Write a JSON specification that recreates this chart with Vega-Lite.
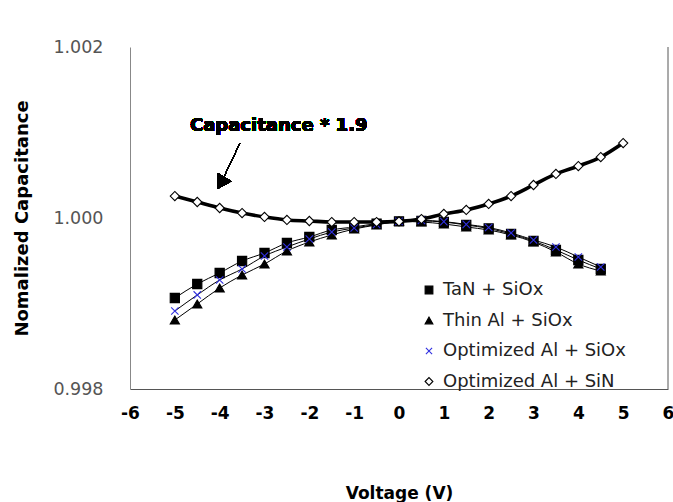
{
  "$schema": "https://vega.github.io/schema/vega-lite/v6.json",
  "width": 538,
  "height": 342,
  "autosize": {"type": "none"},
  "padding": {"left": 130, "top": 47, "right": 5, "bottom": 113},
  "background": "white",
  "config": {"view": {"stroke": null}, "font": "DejaVu Sans"},
  "data": {
    "values": [
      {"v": -5, "series": "TaN + SiOx", "c": 0.999064},
      {"v": -4.5, "series": "TaN + SiOx", "c": 0.999228},
      {"v": -4, "series": "TaN + SiOx", "c": 0.999357},
      {"v": -3.5, "series": "TaN + SiOx", "c": 0.999497},
      {"v": -3, "series": "TaN + SiOx", "c": 0.999591},
      {"v": -2.5, "series": "TaN + SiOx", "c": 0.999708},
      {"v": -2, "series": "TaN + SiOx", "c": 0.999778},
      {"v": -1.5, "series": "TaN + SiOx", "c": 0.99986},
      {"v": -1, "series": "TaN + SiOx", "c": 0.999895},
      {"v": -0.5, "series": "TaN + SiOx", "c": 0.999935},
      {"v": 0, "series": "TaN + SiOx", "c": 0.99996},
      {"v": 0.5, "series": "TaN + SiOx", "c": 0.999965},
      {"v": 1, "series": "TaN + SiOx", "c": 0.999953},
      {"v": 1.5, "series": "TaN + SiOx", "c": 0.999918},
      {"v": 2, "series": "TaN + SiOx", "c": 0.999878},
      {"v": 2.5, "series": "TaN + SiOx", "c": 0.999813},
      {"v": 3, "series": "TaN + SiOx", "c": 0.999731},
      {"v": 3.5, "series": "TaN + SiOx", "c": 0.999626},
      {"v": 4, "series": "TaN + SiOx", "c": 0.999509},
      {"v": 4.5, "series": "TaN + SiOx", "c": 0.999404},

      {"v": -5, "series": "Thin Al + SiOx", "c": 0.998807},
      {"v": -4.5, "series": "Thin Al + SiOx", "c": 0.998994},
      {"v": -4, "series": "Thin Al + SiOx", "c": 0.999181},
      {"v": -3.5, "series": "Thin Al + SiOx", "c": 0.999333},
      {"v": -3, "series": "Thin Al + SiOx", "c": 0.999462},
      {"v": -2.5, "series": "Thin Al + SiOx", "c": 0.999614},
      {"v": -2, "series": "Thin Al + SiOx", "c": 0.999719},
      {"v": -1.5, "series": "Thin Al + SiOx", "c": 0.999801},
      {"v": -1, "series": "Thin Al + SiOx", "c": 0.999871},
      {"v": -0.5, "series": "Thin Al + SiOx", "c": 0.999918},
      {"v": 0, "series": "Thin Al + SiOx", "c": 0.99996},
      {"v": 0.5, "series": "Thin Al + SiOx", "c": 0.999953},
      {"v": 1, "series": "Thin Al + SiOx", "c": 0.99993},
      {"v": 1.5, "series": "Thin Al + SiOx", "c": 0.999895},
      {"v": 2, "series": "Thin Al + SiOx", "c": 0.99986},
      {"v": 2.5, "series": "Thin Al + SiOx", "c": 0.999801},
      {"v": 3, "series": "Thin Al + SiOx", "c": 0.999719},
      {"v": 3.5, "series": "Thin Al + SiOx", "c": 0.999602},
      {"v": 4, "series": "Thin Al + SiOx", "c": 0.999462},
      {"v": 4.5, "series": "Thin Al + SiOx", "c": 0.99938},

      {"v": -5, "series": "Optimized Al + SiOx", "c": 0.998912},
      {"v": -4.5, "series": "Optimized Al + SiOx", "c": 0.9991},
      {"v": -4, "series": "Optimized Al + SiOx", "c": 0.999275},
      {"v": -3.5, "series": "Optimized Al + SiOx", "c": 0.999404},
      {"v": -3, "series": "Optimized Al + SiOx", "c": 0.999556},
      {"v": -2.5, "series": "Optimized Al + SiOx", "c": 0.999661},
      {"v": -2, "series": "Optimized Al + SiOx", "c": 0.999754},
      {"v": -1.5, "series": "Optimized Al + SiOx", "c": 0.999836},
      {"v": -1, "series": "Optimized Al + SiOx", "c": 0.999883},
      {"v": -0.5, "series": "Optimized Al + SiOx", "c": 0.999925},
      {"v": 0, "series": "Optimized Al + SiOx", "c": 0.99996},
      {"v": 0.5, "series": "Optimized Al + SiOx", "c": 0.999972},
      {"v": 1, "series": "Optimized Al + SiOx", "c": 0.999958},
      {"v": 1.5, "series": "Optimized Al + SiOx", "c": 0.999925},
      {"v": 2, "series": "Optimized Al + SiOx", "c": 0.999889},
      {"v": 2.5, "series": "Optimized Al + SiOx", "c": 0.999825},
      {"v": 3, "series": "Optimized Al + SiOx", "c": 0.999743},
      {"v": 3.5, "series": "Optimized Al + SiOx", "c": 0.999661},
      {"v": 4, "series": "Optimized Al + SiOx", "c": 0.999544},
      {"v": 4.5, "series": "Optimized Al + SiOx", "c": 0.999427},

      {"v": -5, "series": "Optimized Al + SiN", "c": 1.000257},
      {"v": -4.5, "series": "Optimized Al + SiN", "c": 1.000187},
      {"v": -4, "series": "Optimized Al + SiN", "c": 1.000117},
      {"v": -3.5, "series": "Optimized Al + SiN", "c": 1.000058},
      {"v": -3, "series": "Optimized Al + SiN", "c": 1.000012},
      {"v": -2.5, "series": "Optimized Al + SiN", "c": 0.999977},
      {"v": -2, "series": "Optimized Al + SiN", "c": 0.999965},
      {"v": -1.5, "series": "Optimized Al + SiN", "c": 0.999953},
      {"v": -1, "series": "Optimized Al + SiN", "c": 0.999953},
      {"v": -0.5, "series": "Optimized Al + SiN", "c": 0.999953},
      {"v": 0, "series": "Optimized Al + SiN", "c": 0.99996},
      {"v": 0.5, "series": "Optimized Al + SiN", "c": 0.999988},
      {"v": 1, "series": "Optimized Al + SiN", "c": 1.000047},
      {"v": 1.5, "series": "Optimized Al + SiN", "c": 1.000094},
      {"v": 2, "series": "Optimized Al + SiN", "c": 1.000164},
      {"v": 2.5, "series": "Optimized Al + SiN", "c": 1.000257},
      {"v": 3, "series": "Optimized Al + SiN", "c": 1.000386},
      {"v": 3.5, "series": "Optimized Al + SiN", "c": 1.000515},
      {"v": 4, "series": "Optimized Al + SiN", "c": 1.000608},
      {"v": 4.5, "series": "Optimized Al + SiN", "c": 1.000713},
      {"v": 5, "series": "Optimized Al + SiN", "c": 1.000877}
    ]
  },
  "encoding": {
    "x": {
      "field": "v",
      "type": "quantitative",
      "scale": {"domain": [-6, 6], "nice": false, "zero": false},
      "axis": {
        "title": "Voltage (V)",
        "values": [-6, -5, -4, -3, -2, -1, 0, 1, 2, 3, 4, 5, 6],
        "labelExpr": "datum.value < 0 ? '-' + abs(datum.value) : '' + datum.value",
        "grid": false,
        "ticks": false,
        "domainColor": "#555",
        "labelFontSize": 17,
        "labelFontWeight": "bold",
        "labelColor": "black",
        "labelPadding": 16,
        "labelFlush": false,
        "labelOverlap": false,
        "titleFontSize": 17,
        "titleFontWeight": "bold",
        "titleColor": "black",
        "titleX": 269,
        "titleY": 104,
        "titleBaseline": "middle"
      }
    },
    "y": {
      "field": "c",
      "type": "quantitative",
      "scale": {"domain": [0.998, 1.002], "nice": false, "zero": false},
      "axis": {
        "title": "Nomalized Capacitance",
        "values": [0.998, 1.0, 1.002],
        "format": ".3f",
        "grid": false,
        "ticks": false,
        "domainColor": "#888",
        "labelColor": "#555",
        "labelFontSize": 17.5,
        "labelPadding": 27,
        "titleFontSize": 18,
        "titleFontWeight": "bold",
        "titleColor": "black",
        "titleAngle": -90,
        "titleX": -108,
        "titleY": 171,
        "titleAlign": "center",
        "titleBaseline": "middle"
      }
    }
  },
  "layer": [
    {
      "mark": {"type": "rule", "color": "#aaa", "strokeWidth": 1},
      "encoding": {
        "x": {"datum": 6, "type": "quantitative"},
        "y": {"datum": 0.998, "type": "quantitative"},
        "y2": {"datum": 1.002}
      }
    },
    {
      "data": {"values": [
        {"tick": -5}, {"tick": -4}, {"tick": -3}, {"tick": -2}, {"tick": -1},
        {"tick": 0}, {"tick": 1}, {"tick": 2}, {"tick": 3}, {"tick": 4}, {"tick": 5}
      ]},
      "mark": {"type": "rule", "color": "#444", "strokeWidth": 1.2},
      "encoding": {
        "x": {"field": "tick", "type": "quantitative"},
        "y": {"datum": 0.998, "type": "quantitative"},
        "y2": {"datum": 0.998082}
      }
    },
    {
      "transform": [{"filter": "datum.series !== 'Optimized Al + SiN'"}],
      "mark": {"type": "line", "color": "black", "strokeWidth": 1, "interpolate": "monotone"},
      "encoding": {"detail": {"field": "series"}}
    },
    {
      "transform": [{"filter": "datum.series === 'Optimized Al + SiN'"}],
      "mark": {"type": "line", "color": "black", "strokeWidth": 3.6, "interpolate": "monotone"}
    },
    {
      "mark": {"type": "point", "opacity": 1, "strokeWidth": 1.1, "size": 85},
      "encoding": {
        "shape": {
          "field": "series",
          "type": "nominal",
          "scale": {
            "domain": ["TaN + SiOx", "Thin Al + SiOx", "Optimized Al + SiOx", "Optimized Al + SiN"],
            "range": ["square", "triangle-up", "M-0.8,-0.8L0.8,0.8M-0.8,0.8L0.8,-0.8", "diamond"]
          },
          "legend": {
            "orient": "none", "legendX": 290, "legendY": 234, "title": null, "padding": 0,
            "labelFontSize": 18, "labelColor": "#222", "labelFont": "DejaVu Sans", "labelLimit": 0,
            "symbolSize": 60, "symbolStrokeWidth": 1.1, "rowPadding": 12.5, "labelOffset": 5
          }
        },
        "fill": {
          "field": "series",
          "type": "nominal",
          "scale": {
            "domain": ["TaN + SiOx", "Thin Al + SiOx", "Optimized Al + SiOx", "Optimized Al + SiN"],
            "range": ["black", "black", "transparent", "white"]
          },
          "legend": {
            "orient": "none", "legendX": 290, "legendY": 234, "title": null, "padding": 0,
            "labelFontSize": 18, "labelColor": "#222", "labelFont": "DejaVu Sans", "labelLimit": 0,
            "symbolSize": 60, "symbolStrokeWidth": 1.1, "rowPadding": 12.5, "labelOffset": 5
          }
        },
        "stroke": {
          "field": "series",
          "type": "nominal",
          "scale": {
            "domain": ["TaN + SiOx", "Thin Al + SiOx", "Optimized Al + SiOx", "Optimized Al + SiN"],
            "range": ["black", "black", "#3030e0", "black"]
          },
          "legend": {
            "orient": "none", "legendX": 290, "legendY": 234, "title": null, "padding": 0,
            "labelFontSize": 18, "labelColor": "#222", "labelFont": "DejaVu Sans", "labelLimit": 0,
            "symbolSize": 60, "symbolStrokeWidth": 1.1, "rowPadding": 12.5, "labelOffset": 5
          }
        }
      }
    },
    {
      "mark": {"type": "rule", "color": "black", "strokeWidth": 1},
      "encoding": {
        "x": {"datum": -3.546, "type": "quantitative"},
        "y": {"datum": 1.000877, "type": "quantitative"},
        "x2": {"datum": -3.96},
        "y2": {"datum": 1.00042}
      }
    },
    {
      "mark": {"type": "point", "shape": "triangle-down", "angle": 31, "size": 260, "filled": true, "color": "black", "opacity": 1},
      "encoding": {
        "x": {"datum": -3.97, "type": "quantitative"},
        "y": {"datum": 1.000409, "type": "quantitative"}
      }
    },
    {
      "mark": {"type": "text", "text": "Capacitance * 1.9", "align": "left", "baseline": "middle", "fontSize": 18, "fontWeight": "bold", "font": "DejaVu Sans", "color": "black"},
      "encoding": {
        "x": {"datum": -4.662, "type": "quantitative"},
        "y": {"datum": 1.001076, "type": "quantitative"}
      }
    }
  ]
}
